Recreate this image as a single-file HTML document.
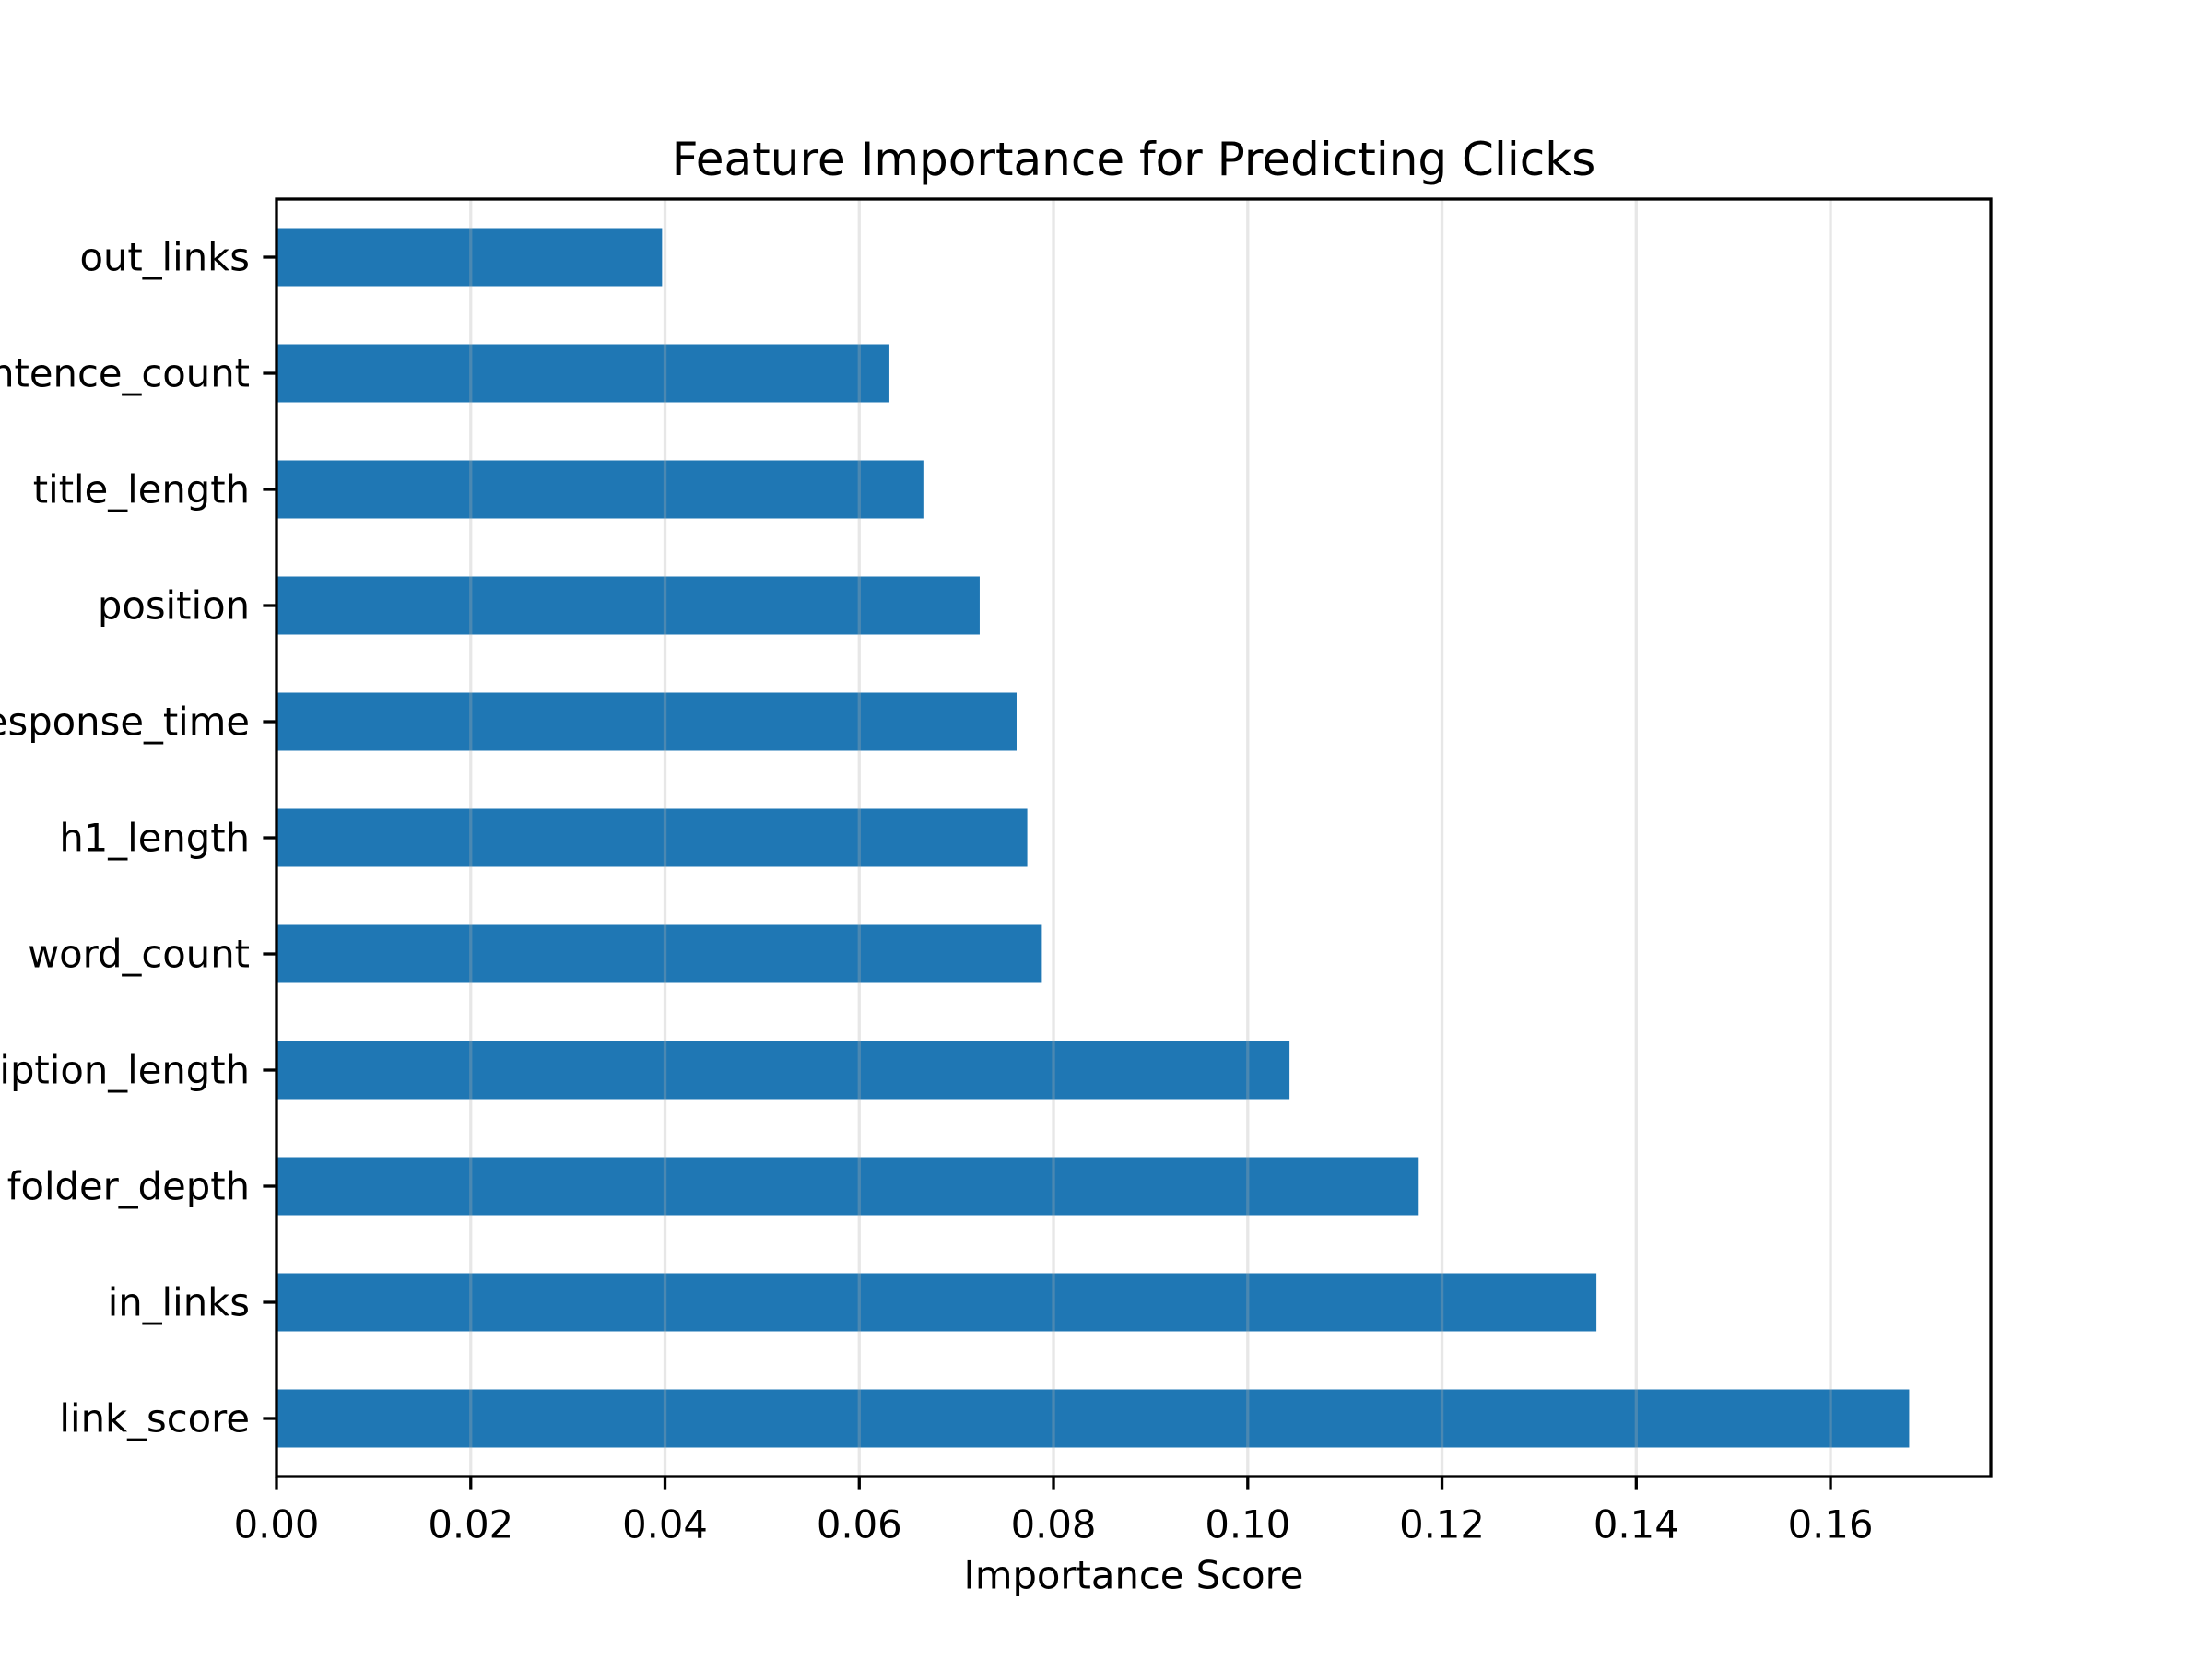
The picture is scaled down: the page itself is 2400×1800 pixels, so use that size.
<!DOCTYPE html>
<html><head><meta charset="utf-8"><style>body{margin:0;background:#fff}svg{display:block}text{font-family:"DejaVu Sans","Liberation Sans",sans-serif;fill:#000}</style></head>
<body>
<svg id="chart" width="2400" height="1800" viewBox="0 0 2400 1800" xmlns="http://www.w3.org/2000/svg">
<rect width="2400" height="1800" fill="#fff"/>
<g id="plot"></g>
</svg>
<script>
const categories = ["link_score","in_links","folder_depth","description_length","word_count","h1_length","response_time","position","title_length","sentence_count","out_links"];
const values = [0.1681,0.1359,0.1176,0.1043,0.0788,0.0773,0.0762,0.0724,0.0666,0.0631,0.0397];
const xTicks = [0,0.02,0.04,0.06,0.08,0.10,0.12,0.14,0.16];
const xTickLabels = ["0.00","0.02","0.04","0.06","0.08","0.10","0.12","0.14","0.16"];

const L=300,R=2160,T=216,B=1602;
const xmax=Math.max(...values)*1.05;
const x=v=>L+v/xmax*(R-L);
const y=i=>B-(i+0.5)/categories.length*(B-T);
const bandH=(B-T)/categories.length;
const NS="http://www.w3.org/2000/svg";
const g=document.getElementById('plot');
function mk(t,a){const e=document.createElementNS(NS,t);for(const k in a)e.setAttribute(k,a[k]);g.appendChild(e);return e;}

categories.forEach((c,i)=>{
  const r=mk('rect',{x:x(0),y:y(i)-bandH*0.25,width:x(values[i])-x(0),height:bandH*0.5,fill:'#1f77b4'});
  
  
  const tk=mk('line',{x1:L-14.6,x2:L,y1:y(i),y2:y(i),stroke:'#000','stroke-width':3.3});
  
  
  const t=mk('text',{x:L-29,y:y(i),'font-size':41.7,'text-anchor':'end','dominant-baseline':'central'});
  t.textContent=c;
  
  
});
xTicks.forEach((v,i)=>{
  const gl=mk('line',{x1:x(v),x2:x(v),y1:T,y2:B,stroke:'#b0b0b0','stroke-opacity':0.3,'stroke-width':3.3});
  
  
  const tk=mk('line',{x1:x(v),x2:x(v),y1:B,y2:B+14.6,stroke:'#000','stroke-width':3.3});
  
  
  const t=mk('text',{x:x(v),y:B+52,'font-size':41.7,'text-anchor':'middle','dominant-baseline':'central'});
  t.textContent=xTickLabels[i];
  
  
});
const fr=mk('rect',{x:L,y:T,width:R-L,height:B-T,fill:'none',stroke:'#000','stroke-width':3.3});


const ti=mk('text',{x:(L+R)/2,y:173,'font-size':50,'text-anchor':'middle','dominant-baseline':'central'});
ti.textContent='Feature Importance for Predicting Clicks';


const xl=mk('text',{x:(L+R)/2,y:1709,'font-size':41.7,'text-anchor':'middle','dominant-baseline':'central'});
xl.textContent='Importance Score';


</script>
</body></html>
